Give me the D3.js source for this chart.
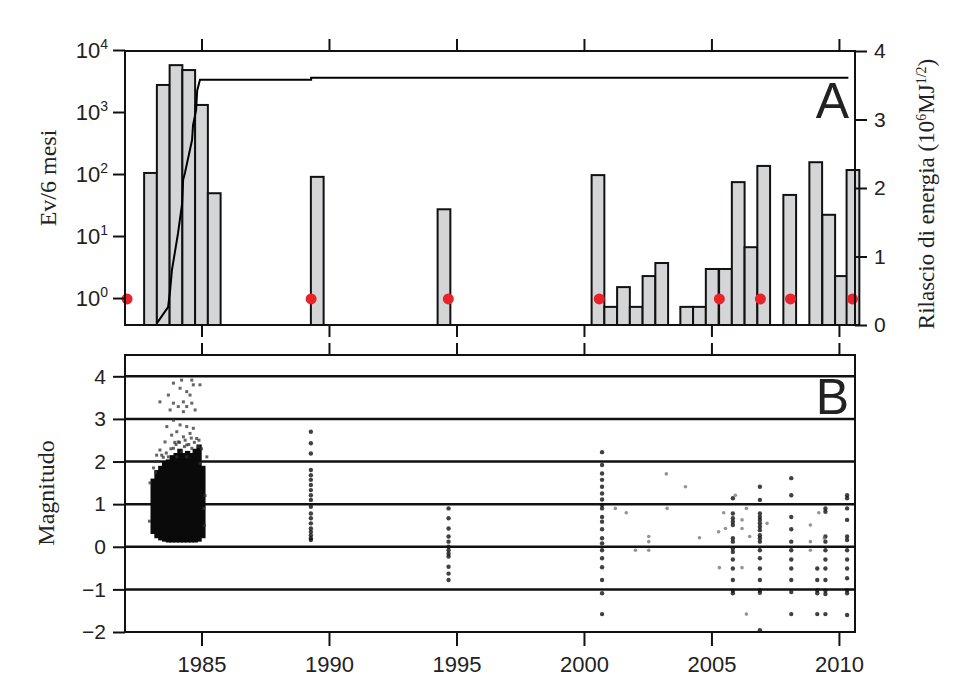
<!DOCTYPE html>
<html>
<head>
<meta charset="utf-8">
<script src="https://cdn.jsdelivr.net/npm/d3@7"></script>
<style>
body { margin: 0; background: #fff; }
svg text { font-family: "Liberation Sans", Arial, sans-serif; fill: #222; }
svg text.serif { font-family: "Liberation Serif", "Times New Roman", serif; }
</style>
</head>
<body>
<svg id="chart" width="971" height="679"></svg>
<script>
// ticks
var yearTicks = [1985, 1990, 1995, 2000, 2005, 2010];
var countTicks = [1, 10, 100, 1000, 10000];
var energyTicks = [0, 1, 2, 3, 4];
var magTicks = [-2, -1, 0, 1, 2, 3, 4];

// panel A: events per 6 months (bin start year, count)
var binStart = [1982.75, 1983.25, 1983.75, 1984.25, 1984.75, 1985.25, 1989.29, 1994.26,
    2000.3, 2000.8, 2001.3, 2001.8, 2002.3, 2002.8, 2003.78, 2004.28, 2004.78, 2005.3,
    2005.8, 2006.3, 2006.8, 2007.82, 2008.84, 2009.35, 2009.85, 2010.3];
var binCount = [104, 2730, 5700, 4750, 1300, 49, 90, 27,
    96, 0.72, 1.5, 0.72, 2.26, 3.67, 0.72, 0.72, 2.94, 2.94,
    74, 6.6, 135, 46, 155, 22, 2.26, 116];

// cumulative energy release
var energyYear = [1983.26, 1983.69, 1983.77, 1983.84, 1984.08, 1984.24, 1984.28, 1984.35,
    1984.63, 1984.67, 1984.79, 1984.83, 1984.94, 1989.3, 1989.3, 2010.37];
var energyValue = [0.03, 0.26, 0.51, 0.80, 1.34, 1.77, 2.12, 2.22,
    2.70, 2.92, 3.14, 3.42, 3.58, 3.58, 3.61, 3.61];

// red markers
var markerYear = [1982.08, 1989.3, 1994.68, 2000.6, 2005.31, 2006.92, 2008.1, 2010.53];
var markerLevel = 0.38;

// panel B: dense 1983-85 swarm, columns of [start year, bottom mag, top mag]
var swarmStart = [1983.0, 1983.15, 1983.3, 1983.45, 1983.6, 1983.75, 1983.9, 1984.05, 1984.2,
    1984.35, 1984.5, 1984.65, 1984.8, 1984.95];
var swarmBottom = [0.3, 0.2, 0.15, 0.12, 0.1, 0.1, 0.1, 0.1, 0.1, 0.1, 0.1, 0.1, 0.12, 0.2];
var swarmTop = [1.6, 1.8, 1.9, 2.0, 2.05, 2.15, 2.2, 2.3, 2.2, 2.25, 2.2, 2.3, 2.4, 1.9];
var swarmWidth = 0.15;

// scattered swarm events above the core
var swarmYear = [1983.90, 1984.22, 1984.62, 1984.94, 1984.68, 1984.16, 1984.42, 1984.55, 1983.70,
    1983.37, 1983.90, 1984.29, 1984.09, 1984.42, 1984.62, 1984.75, 1984.29, 1983.77, 1983.90,
    1983.64, 1984.16, 1984.42, 1984.68, 1984.03, 1984.55, 1983.83, 1984.29, 1984.81, 1983.57,
    1984.09, 1984.42, 1983.37, 1983.90, 1984.22, 1984.62, 1984.88, 1983.24, 1983.70, 1984.03,
    1984.42, 1985.21, 1983.18, 1984.94, 1982.98, 1982.96, 1985.12, 1985.14,
    1983.12, 1983.3, 1983.5, 1983.62, 1983.8, 1984.0, 1984.14, 1984.33, 1984.5, 1984.72, 1984.9,
    1983.2, 1983.44, 1983.95, 1984.36, 1984.6, 1985.0, 1985.1];
var swarmMag = [3.84, 3.91, 3.91, 3.80, 3.80, 3.72, 3.64, 3.56, 3.56,
    3.40, 3.37, 3.40, 3.29, 3.29, 3.37, 3.21, 3.17, 3.21, 2.97,
    2.82, 2.86, 2.82, 2.78, 2.70, 2.66, 2.62, 2.58, 2.54, 2.46,
    2.46, 2.39, 2.27, 2.31, 2.23, 2.31, 2.35, 2.15, 2.11, 2.11,
    2.11, 2.11, 2.00, 1.96, 1.5, 0.6, 0.5, 1.2,
    1.85, 2.0, 2.1, 2.2, 2.3, 2.4, 2.45, 2.35, 2.4, 2.45, 2.5,
    1.75, 2.15, 2.45, 2.5, 2.55, 2.3, 0.9];

// later sequences, one column per sequence
var columnYear = [1989.29, 1994.69, 2000.71, 2005.84, 2006.90, 2008.13, 2009.15, 2009.47, 2010.32];
var columnMag = [
    [2.70, 2.43, 2.19, 1.80, 1.68, 1.57, 1.45, 1.33, 1.21, 1.10, 0.94, 0.78, 0.67, 0.55, 0.43, 0.35, 0.27, 0.20, 0.16],
    [0.90, 0.67, 0.43, 0.24, 0.12, 0.0, -0.08, -0.16, -0.23, -0.47, -0.63, -0.78],
    [2.22, 1.92, 1.72, 1.57, 1.41, 1.25, 1.11, 0.98, 0.90, 0.70, 0.59, 0.41, 0.20, 0.08, -0.08, -0.27, -0.48, -0.78, -1.09, -1.58],
    [1.14, 0.78, 0.67, 0.59, 0.51, 0.20, 0.12, -0.04, -0.12, -0.30, -0.51, -0.78, -1.03, -1.09],
    [1.41, 1.10, 0.78, 0.70, 0.63, 0.55, 0.47, 0.39, 0.27, 0.20, 0.12, -0.08, -0.27, -0.51, -0.78, -1.02, -1.08, -1.96],
    [1.61, 1.21, 0.70, 0.41, 0.12, -0.08, -0.30, -0.51, -0.78, -1.06, -1.58],
    [-0.51, -0.78, -1.02, -1.09, -1.58],
    [0.90, 0.82, 0.24, 0.12, -0.08, -0.30, -0.51, -0.78, -1.03, -1.11, -1.58],
    [1.21, 1.14, 0.90, 0.63, 0.24, 0.16, -0.08, -0.30, -0.51, -0.74, -1.02, -1.09, -1.60]
];

// isolated events
var looseYear = [2001.23, 2001.66, 2002.02, 2002.54, 2002.54, 2002.54, 2003.23, 2003.26, 2003.98, 2004.53,
    2005.94, 2005.48, 2005.28, 2005.55, 2005.31, 2006.37, 2006.2, 2006.2, 2006.5, 2006.2, 2006.37,
    2007.18, 2008.88, 2008.88, 2008.88, 2009.21, 2009.43];
var looseMag = [0.90, 0.80, -0.08, 0.24, 0.12, -0.08, 1.71, 0.90, 1.41, 0.21,
    1.21, 0.80, 0.35, 0.43, -0.49, 0.90, 0.63, 0.43, 0.24, -0.49, -1.58,
    0.55, 0.51, 0.12, -0.08, 0.80, 0.20];

var svg = d3.select('#chart');
var left = 125, right = 855, aTop = 51, aBot = 325, bTop = 355, bBot = 632;

var x = d3.scaleLinear().domain([1982, 2010.63]).range([left, right]);
var yCount = d3.scaleLog().domain([Math.pow(10, -0.435), Math.pow(10, 3.984)]).range([aBot, aTop]);
var yEnergy = d3.scaleLinear().domain([0, 4]).range([aBot, aTop]);
var yMag = d3.scaleLinear().domain([-2, 4.5]).range([bBot, bTop]);

// ---- panel A ----
svg.append('g').selectAll('rect')
    .data(binStart)
    .join('rect')
    .attr('x', d => x(d))
    .attr('y', (d, i) => yCount(binCount[i]))
    .attr('width', d => x(d + 0.5) - x(d))
    .attr('height', (d, i) => aBot - yCount(binCount[i]))
    .attr('fill', '#d3d5d7')
    .attr('stroke', '#111')
    .attr('stroke-width', 2);

var line = d3.line()
    .x(d => x(d[0]))
    .y(d => yEnergy(d[1]));
svg.append('path')
    .datum(energyYear.map((d, i) => [d, energyValue[i]]))
    .attr('d', line)
    .attr('fill', 'none')
    .attr('stroke', '#000')
    .attr('stroke-width', 2);

svg.append('g').selectAll('circle')
    .data(markerYear)
    .join('circle')
    .attr('cx', d => x(d))
    .attr('cy', yEnergy(markerLevel))
    .attr('r', 5.5)
    .attr('fill', '#e8232a');

// ---- panel B ----
svg.append('g').selectAll('line')
    .data(magTicks.filter(d => d > -2))
    .join('line')
    .attr('x1', left).attr('x2', right)
    .attr('y1', d => yMag(d)).attr('y2', d => yMag(d))
    .attr('stroke', '#111')
    .attr('stroke-width', 2.5);

svg.append('g').selectAll('rect')
    .data(swarmStart)
    .join('rect')
    .attr('x', d => x(d))
    .attr('width', d => x(d + swarmWidth) - x(d) + 1.5)
    .attr('y', (d, i) => yMag(swarmTop[i]))
    .attr('height', (d, i) => yMag(swarmBottom[i]) - yMag(swarmTop[i]))
    .attr('fill', '#0a0a0a');

svg.append('g').selectAll('rect')
    .data(swarmYear)
    .join('rect')
    .attr('x', d => x(d) - 1.5)
    .attr('y', (d, i) => yMag(swarmMag[i]) - 1.5)
    .attr('width', 3).attr('height', 3)
    .attr('fill', '#333')
    .attr('opacity', 0.75);

var colPoints = [];
columnYear.forEach((yr, i) => columnMag[i].forEach(m => colPoints.push([yr, m])));
svg.append('g').selectAll('circle')
    .data(colPoints)
    .join('circle')
    .attr('cx', d => x(d[0]))
    .attr('cy', d => yMag(d[1]))
    .attr('r', 2.2)
    .attr('fill', '#111')
    .attr('opacity', 0.8);

svg.append('g').selectAll('circle')
    .data(looseYear)
    .join('circle')
    .attr('cx', d => x(d))
    .attr('cy', (d, i) => yMag(looseMag[i]))
    .attr('r', 1.8)
    .attr('fill', '#666')
    .attr('opacity', 0.7);

// ---- frames and axes ----
[[aTop, aBot], [bTop, bBot]].forEach(p => {
    svg.append('rect')
        .attr('x', left).attr('y', p[0])
        .attr('width', right - left).attr('height', p[1] - p[0])
        .attr('fill', 'none').attr('stroke', '#111').attr('stroke-width', 2);
});

function styleAxis(g) {
    g.select('.domain').remove();
    g.selectAll('.tick line').attr('stroke', '#111').attr('stroke-width', 2);
    g.selectAll('.tick text').attr('font-size', 21).attr('fill', '#222')
        .style('font-family', '"Liberation Sans", Arial, sans-serif');
}

svg.append('g').attr('transform', `translate(0,${aTop})`)
    .call(d3.axisTop(x).tickValues(yearTicks).tickSize(12).tickFormat('')).call(styleAxis);
svg.append('g').attr('transform', `translate(0,${aBot})`)
    .call(d3.axisBottom(x).tickValues(yearTicks).tickSize(12).tickFormat('')).call(styleAxis);
svg.append('g').attr('transform', `translate(0,${bTop})`)
    .call(d3.axisTop(x).tickValues(yearTicks).tickSize(12).tickFormat('')).call(styleAxis);
svg.append('g').attr('transform', `translate(0,${bBot})`)
    .call(d3.axisBottom(x).tickValues(yearTicks).tickSize(14).tickPadding(10).tickFormat(d3.format('d')))
    .call(styleAxis)
    .selectAll('.tick text').attr('font-size', 22);

svg.append('g').attr('transform', `translate(${left},0)`)
    .call(d3.axisLeft(yCount).tickValues(countTicks).tickSize(12).tickFormat('')).call(styleAxis);

var countLabel = svg.append('g').selectAll('text')
    .data(countTicks)
    .join('text')
    .attr('x', left - 17)
    .attr('y', d => yCount(d) + 8)
    .attr('text-anchor', 'end')
    .attr('font-size', 22);
countLabel.append('tspan').text('10');
countLabel.append('tspan')
    .attr('dy', -9)
    .attr('font-size', 14)
    .text(d => Math.round(Math.log10(d)));

svg.append('g').attr('transform', `translate(${right},0)`)
    .call(d3.axisRight(yEnergy).tickValues(energyTicks).tickSize(12).tickPadding(7).tickFormat(d3.format('d')))
    .call(styleAxis);

svg.append('g').attr('transform', `translate(${left},0)`)
    .call(d3.axisLeft(yMag).tickValues(magTicks).tickSize(12).tickPadding(7).tickFormat(d3.format('d')))
    .call(styleAxis);

// panel letters
svg.append('text').attr('x', 849).attr('y', 118).attr('text-anchor', 'end')
    .attr('font-size', 50).attr('fill', '#333').text('A');
svg.append('text').attr('x', 849).attr('y', 414).attr('text-anchor', 'end')
    .attr('font-size', 50).attr('fill', '#333').text('B');

// axis titles
svg.append('text').attr('class', 'serif')
    .attr('transform', 'translate(56,178) rotate(-90)')
    .attr('text-anchor', 'middle').attr('font-size', 24)
    .text('Ev/6 mesi');
svg.append('text').attr('class', 'serif')
    .attr('transform', 'translate(54,493) rotate(-90)')
    .attr('text-anchor', 'middle').attr('font-size', 24)
    .text('Magnitudo');

var rt = svg.append('text').attr('class', 'serif')
    .attr('transform', 'translate(934,194) rotate(-90)')
    .attr('text-anchor', 'middle').attr('font-size', 23);
rt.append('tspan').text('Rilascio di energia (10');
rt.append('tspan').attr('dy', -8).attr('font-size', 14).text('6');
rt.append('tspan').attr('dy', 8).text('MJ');
rt.append('tspan').attr('dy', -8).attr('font-size', 14).text('1/2');
rt.append('tspan').attr('dy', 8).text(')');
</script>
</body>
</html>
